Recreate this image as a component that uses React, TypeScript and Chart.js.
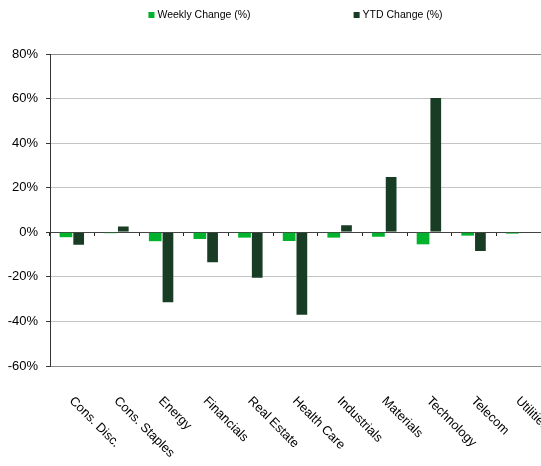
import React, { useEffect, useRef } from "react";
import { Chart, registerables } from "chart.js";

Chart.register(...registerables);

const categories = [
  "Cons. Disc.",
  "Cons. Staples",
  "Energy",
  "Financials",
  "Real Estate",
  "Health Care",
  "Industrials",
  "Materials",
  "Technology",
  "Telecom",
  "Utilities",
];
const weeklyChange = [-2.2, -0.4, -4.0, -3.0, -2.4, -3.9, -2.4, -2.0, -5.4, -1.5, -0.6];
const ytdChange = [-6.0, 3.1, -31.8, -13.9, -20.8, -37.5, 3.6, 25.3, 60.7, -8.8, 0.0];
const seriesNames = ["Weekly Change (%)", "YTD Change (%)"];
const seriesColors = ["#00b22c", "#183d24"];
const yMin = -60;
const yMax = 80;
const yStep = 20;

const FONT = "'Liberation Sans', Arial, sans-serif";

const customText = {
  id: "customText",
  afterDraw(chart: any) {
    const ctx = chart.ctx;
    const area = chart.chartArea;
    const xs = chart.scales.x;
    ctx.save();
    // rotated category labels
    ctx.fillStyle = "#000";
    ctx.font = `12.8px ${FONT}`;
    ctx.textAlign = "left";
    ctx.textBaseline = "middle";
    (chart.data.labels as string[]).forEach((lab, i) => {
      const x = xs.getPixelForValue(i) - 1;
      const y = area.bottom + 33;
      ctx.save();
      ctx.translate(x, y);
      ctx.rotate(Math.PI / 4);
      ctx.fillText(lab, 0, 0);
      ctx.restore();
    });
    // legend
    ctx.font = `10.5px ${FONT}`;
    const box = 6;
    const gapBox = 3;
    const gapItem = 103;
    const ds = chart.data.datasets;
    const widths = ds.map((d: any) => box + gapBox + ctx.measureText(d.label).width);
    const total = widths.reduce((a: number, b: number) => a + b, 0) + gapItem * (ds.length - 1);
    let x = (area.left + area.right) / 2 - total / 2;
    const cy = 15;
    ds.forEach((d: any, i: number) => {
      ctx.fillStyle = d.backgroundColor;
      ctx.fillRect(x, cy - 3, box, box);
      ctx.fillStyle = "#000";
      ctx.textBaseline = "middle";
      ctx.fillText(d.label, x + box + gapBox, cy);
      x += widths[i] + gapItem;
    });
    ctx.restore();
  },
};

export default function App() {
  const ref = useRef<HTMLCanvasElement | null>(null);
  useEffect(() => {
    if (!ref.current) return;
    const chart = new Chart(ref.current, {
      type: "bar",
      data: {
        labels: categories,
        datasets: [
          {
            label: seriesNames[0],
            data: weeklyChange,
            backgroundColor: seriesColors[0],
            barPercentage: 1,
            categoryPercentage: 0.57,
          },
          {
            label: seriesNames[1],
            data: ytdChange,
            backgroundColor: seriesColors[1],
            borderColor: "rgba(255,255,255,0.3)",
            borderWidth: 1,
            barPercentage: 1,
            categoryPercentage: 0.57,
          },
        ],
      },
      options: {
        animation: false,
        responsive: true,
        maintainAspectRatio: false,
        layout: { padding: { top: 54, left: 0, right: 0, bottom: 0 } },
        plugins: {
          legend: { display: false },
          tooltip: { enabled: false },
        },
        scales: {
          x: {
            type: "category",
            offset: true,
            grid: { display: false, offset: true },
            border: { display: false },
            ticks: { display: false },
            afterFit: (s: any) => {
              s.height = 100;
            },
          },
          x2: {
            type: "category",
            position: { y: 0 } as any,
            offset: true,
            grid: {
              display: true,
              offset: true,
              drawOnChartArea: false,
              drawTicks: true,
              tickLength: 3,
              color: "#222",
            },
            border: { display: true, color: "#444", width: 1 },
            ticks: { display: false },
          },
          y: {
            min: yMin,
            max: yMax,
            ticks: {
              stepSize: yStep,
              padding: 8,
              color: "#000",
              font: { family: FONT, size: 13 },
              callback: (v: any) => `${v}%`,
            },
            grid: {
              tickLength: 4,
              tickColor: "#333",
              color: (c: any) => {
                const v = c.tick ? c.tick.value : null;
                if (v === yMax || v === yMin) return "#8c8c8c";
                if (v === 0) return "#444";
                return "#c4c4c4";
              },
            },
            border: { display: true, color: "#333", width: 1 },
            afterFit: (s: any) => {
              s.width = 50;
            },
          },
        },
      },
      plugins: [customText],
    });
    return () => chart.destroy();
  }, []);
  return (
    <div style={{ position: "fixed", left: 0, top: 0, width: 541, height: 466 }}>
      <canvas ref={ref} />
    </div>
  );
}
